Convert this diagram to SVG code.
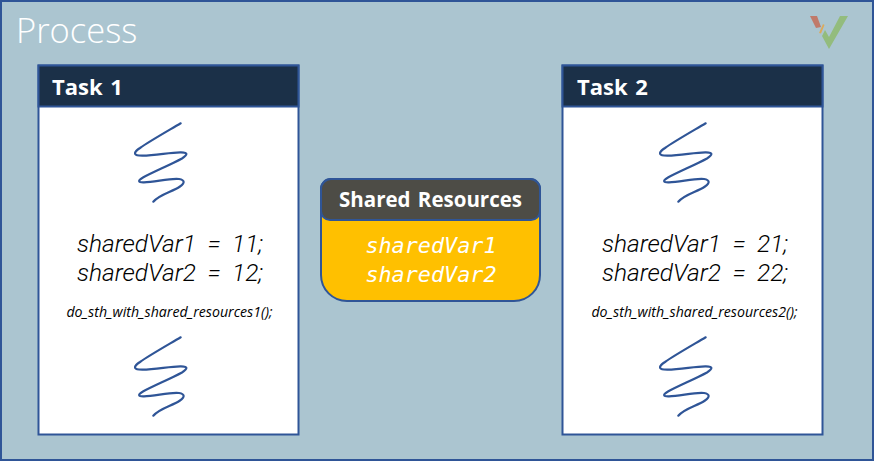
<svg xmlns="http://www.w3.org/2000/svg" width="874" height="461" viewBox="0 0 874 461">
<style>
.sans{font-family:"Open Sans","Noto Sans","Liberation Sans",sans-serif}
.panel{fill:#fff;stroke:#2f5597;stroke-width:2}
.head{fill:#1b3048;stroke:#2f5597;stroke-width:2}
.title{font-size:22px;font-weight:700;fill:#fff;word-spacing:2px}
.code{font-family:Roboto,"Open Sans",sans-serif;font-size:24.500px;font-weight:300;font-style:italic;fill:#000;text-anchor:middle;word-spacing:5.500px}
.small{font-size:14.150px;font-weight:400;font-style:italic;fill:#000;text-anchor:middle}
.mono{font-family:"DejaVu Sans Mono","Liberation Mono",monospace;font-size:21.800px;font-style:italic;fill:#fff;text-anchor:middle}
.sq{fill:none;stroke:#2f5597;stroke-width:2.200;stroke-linecap:round;stroke-linejoin:round}
</style>
<defs>
<path id="squiggle" class="sq" d="M180.700 123.300C166 132 150 141 140 148C134 152 133 155 139 155.500C152 156.500 170 152 181 152.300C188 152.500 188 154.500 182 158.500C170 165 153 172 143 177.500C137 181 138.500 182.500 144 182.300C155 182 170 178 179 179C185 180 185 183 180 186.500C172 192 160 194 153.300 201.700"/>
</defs>
<g id="process">
<rect x="1" y="1" width="872" height="459" fill="#abc5d0" stroke="#2f5597" stroke-width="2"/>
<text class="sans" x="16" y="43" font-size="34.500" font-weight="300" fill="#fff">Process</text>
</g>
<g id="logo">
<polygon points="810,16 817,16 821,27 816,28" fill="#c07a6a"/>
<polygon points="819,33 823,24 824.500,25 821,33.500" fill="#dcaa5c"/>
<polygon points="822,36 825,30 829,37 840,16 848,16 829,49" fill="#93bc7d"/>
</g>
<g id="task1">
<rect class="panel" x="38.500" y="65.500" width="260" height="369"/>
<rect class="head" x="38.500" y="65.500" width="260" height="41"/>
<text class="sans title" x="52" y="95">Task 1</text>
<use href="#squiggle"/>
<text class="code" x="170" y="252">sharedVar1 = 11;</text>
<text class="code" x="170" y="281">sharedVar2 = 12;</text>
<text class="sans small" x="169.500" y="317">do_sth_with_shared_resources1();</text>
<use href="#squiggle" y="214"/>
</g>
<g id="task2">
<rect class="panel" x="562.500" y="65.500" width="260" height="369"/>
<rect class="head" x="562.500" y="65.500" width="260" height="41"/>
<text class="sans title" x="577" y="95">Task 2</text>
<use href="#squiggle" x="525"/>
<text class="code" x="695" y="252">sharedVar1 = 21;</text>
<text class="code" x="695" y="281">sharedVar2 = 22;</text>
<text class="sans small" x="694.500" y="317">do_sth_with_shared_resources2();</text>
<use href="#squiggle" x="525" y="214"/>
</g>
<g id="shared-resources">
<path d="M321 189a10 10 0 0 1 10-10H530a10 10 0 0 1 10 10V275a26 26 0 0 1-26 26H347a26 26 0 0 1-26-26Z" fill="#ffc000" stroke="#2f5597" stroke-width="2"/>
<path d="M321 189a10 10 0 0 1 10-10H530a10 10 0 0 1 10 10V211a9 9 0 0 1-9 9H330a9 9 0 0 1-9-9Z" fill="#4d4c46" stroke="#2f5597" stroke-width="2"/>
<text class="sans" x="430.500" y="207" font-size="20.500" font-weight="700" fill="#fff" text-anchor="middle" word-spacing="2">Shared Resources</text>
<text class="mono" x="431" y="253">sharedVar1</text>
<text class="mono" x="431" y="282">sharedVar2</text>
</g>
</svg>
